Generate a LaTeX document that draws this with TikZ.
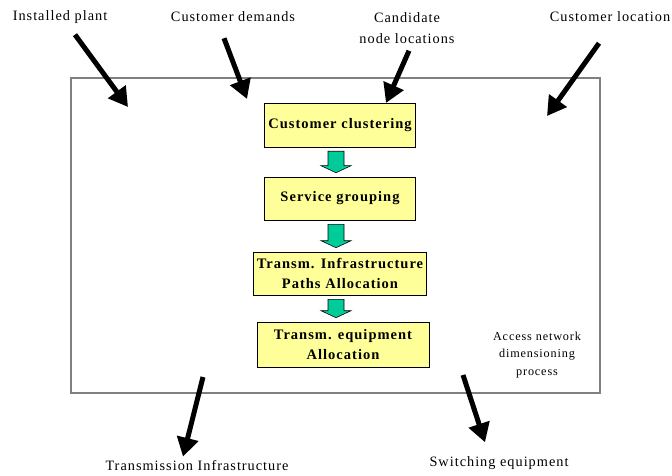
\documentclass[tikz,border=0pt]{standalone}
\usepackage{fontspec}
\setmainfont{Liberation Serif}[LetterSpace=7]
\usepackage{tikz}
\usetikzlibrary{arrows.meta,calc}
\definecolor{boxyellow}{RGB}{255,255,153}
\definecolor{arrowgreen}{RGB}{0,204,153}
\definecolor{framegray}{RGB}{128,128,128}
\tikzset{
  stage/.style={draw=black, line width=0.6pt, fill=boxyellow, align=center,
    inner sep=0pt, font=\fontsize{14.5}{20}\selectfont\bfseries},
  label/.style={align=center, inner sep=0pt, font=\fontsize{14.3}{21}\selectfont},
  bigarrow/.style={line width=5pt, -{Triangle[length=19pt,width=21pt]}},
  greenarrow/.style={draw=black, line width=0.6pt, fill=arrowgreen}
}
\begin{document}
\begin{tikzpicture}[x=1pt,y=-1pt]
\useasboundingbox (0,0) rectangle (672,476);
\node[draw=framegray, line width=1.5pt, minimum width=529pt, minimum height=315pt,
  inner sep=0pt] (process) at (335.5,235.5) {};
% process stages
\node[stage, minimum width=151pt, minimum height=44pt] (clustering) at (340,125) {Customer clustering};
\node[stage, minimum width=151pt, minimum height=43pt] (grouping) at (340,198.5) {Service grouping};
\node[stage, minimum width=173pt, minimum height=43pt] (paths) at (340,273.5) {Transm. Infrastructure\\Paths Allocation};
\node[stage, minimum width=172pt, minimum height=45pt] (equipment) at (343,344.5) {Transm. equipment\\Allocation};
\foreach \a/\b in {clustering/grouping,grouping/paths,paths/equipment}{
  \draw[greenarrow] ($(\a.south)+(-12,4)$) -- ($(\a.south |- \b.north)+(-12,-11)$)
    -- ++(-7,0) -- ($(\a.south |- \b.north)+(-4,-4)$) -- ++(15,-7) -- ++(-7,0)
    -- ($(\a.south)+(4,4)$) -- cycle;}
\node[align=center, inner sep=0pt, font=\fontsize{12.2}{17.5}\selectfont] (access) at (537,355)
  {Access network\\dimensioning\\process};
% inputs
\node[label] (plant) at (60,17) {Installed plant};
\node[label] (demands) at (233,17) {Customer demands};
\node[label] (candidate) at (407,28) {Candidate\\node locations};
\node[label] (location) at (610,17) {Customer location};
\coordinate (plant-in) at (128,107);
\coordinate (demands-in) at (247,99);
\coordinate (candidate-in) at (386,103);
\coordinate (location-in) at (547,116);
\draw[bigarrow] (plant.south) ++(15,11) -- (plant-in);
\draw[bigarrow] (demands.south) ++(-9,16) -- (demands-in);
\draw[bigarrow] (candidate.south) ++(2,7) -- (candidate-in);
\draw[bigarrow] (location.south) ++(-11,21) -- (location-in);
% outputs
\node[label] (infra) at (197,466) {Transmission Infrastructure};
\node[label] (switching) at (499,463) {Switching equipment};
\coordinate (infra-out) at (203,377);
\coordinate (switching-out) at (463,375);
\draw[bigarrow] (infra-out) -- ($(infra.north)+(-14,-4)$);
\draw[bigarrow] (switching-out) -- ($(switching.north)+(-14,-14)$);
\end{tikzpicture}
\end{document}
